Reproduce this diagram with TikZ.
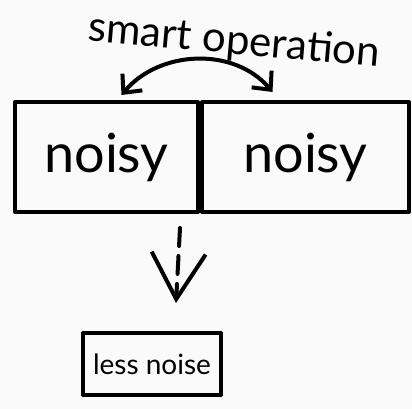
\documentclass[tikz,border=0pt]{standalone}
\usepackage{fontspec}
\setmainfont{Lato}
\usetikzlibrary{arrows.meta}
\usetikzlibrary{positioning}
\tikzset{pen/.style = {line width = 4pt, line cap = round, line join = round}}
\tikzset{box/.style = {pen, draw, minimum height = 110pt, inner sep = 0}}
\tikzset{barb/.tip = {Straight Barb[length = 14pt, width = 26pt, line width = 4pt]}}
\tikzset{bigbarb/.tip = {Straight Barb[length = 46pt, width = 54pt, line width = 4pt]}}
\definecolor{paper}{rgb}{0.98, 0.98, 0.98}

\begin{document}
\begin{tikzpicture}[x = 1pt, y = -1pt]

      \useasboundingbox [fill = paper] (0, 0) rectangle (412, 409);

      \node [box, minimum width = 183pt] (left) at (106.5, 157) {\fontsize{54}{60}\selectfont noisy};
      \node [box, minimum width = 207pt, anchor = west] (right) at (left.east) {\fontsize{54}{60}\selectfont noisy};
      \node [box, minimum width = 138pt, minimum height = 62pt] (less) at (152, 364) {\fontsize{28}{32}\selectfont less noise};

      \node [rotate = -5] (op) at (234, 42) {\fontsize{42}{46}\selectfont smart operation};

      \draw [pen, barb-barb] ([xshift = 15pt, yshift = 5pt]left.north) to [out = 50, in = 130] ([xshift = -33pt, yshift = 8pt]right.north);

      \draw [pen, dash pattern = on 18pt off 10pt, -bigbarb]
        ([xshift = -20pt, yshift = -14pt]left.south east) -- ([xshift = 24pt, yshift = 28pt]less.north);

    \end{tikzpicture}
\end{document}
